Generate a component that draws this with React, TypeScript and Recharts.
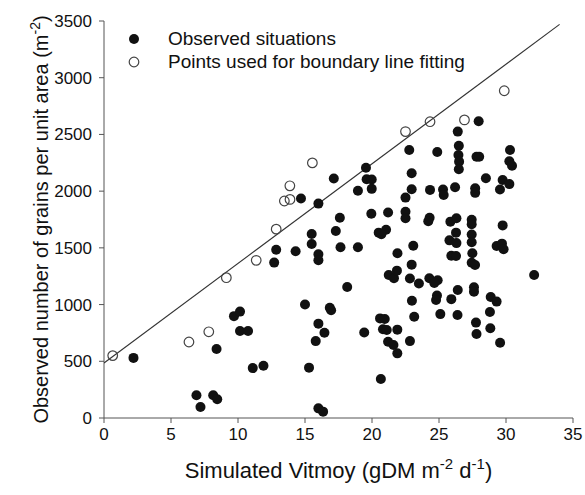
import {
  ScatterChart,
  Scatter,
  XAxis,
  YAxis,
} from 'recharts'

// filled dots: observed situations [vitmoy, grains]
const observedX = [
  2.2, 6.9, 7.2, 8.15, 8.45, 8.4, 9.7, 10.15, 10.15, 10.75, 11.1, 11.9, 12.85, 12.7, 14.3, 14.7,
  15.0, 15.3, 15.5, 15.5, 16.0, 16.0, 16.0, 16.45, 15.8, 16.0, 16.35, 16.0, 16.85, 16.95, 17.3,
  17.65, 17.6, 17.15, 18.95, 18.15, 19.95, 21.2, 20.5, 21.05, 20.7, 22.5, 22.5, 22.5, 21.9, 23.08,
  22.96, 21.25, 21.64, 21.86, 22.83, 23.5, 22.98, 23.15, 20.6, 20.95, 20.82, 21.1, 21.89, 19.42,
  21.2, 21.6, 21.89, 22.83, 20.66, 24.3, 24.2, 24.28, 24.9, 24.65, 24.85, 24.78, 25.1, 25.85, 26.3,
  26.27, 25.78, 26.3, 25.92, 26.27, 25.92, 26.4, 26.38, 27.44, 27.44, 27.44, 27.44, 27.49, 27.44,
  27.69, 27.61, 27.61, 27.76, 27.8, 29.75, 29.3, 29.7, 29.82, 28.86, 29.3, 28.8, 28.83, 29.56,
  32.1, 27.96, 26.4, 26.48, 26.45, 26.5, 26.48, 27.8, 28.0, 22.78, 24.87, 22.96, 22.96, 19.55,
  19.6, 19.98, 18.95, 19.98, 24.33, 25.3, 25.35, 26.2, 27.7, 27.7, 28.5, 29.75, 30.25, 29.55,
  30.3, 30.25, 30.45,
]
const observedY = [
  530, 200, 97, 200, 165, 608, 898, 938, 767, 767, 440, 461, 1484, 1370, 1470, 1935,
  1000, 444, 1622, 1534, 1443, 1390, 832, 752, 678, 85, 56, 1890, 972, 950, 1649,
  1505, 1766, 2112, 1505, 1155, 1800, 1812, 1634, 1660, 1620, 1819, 1761, 1943, 1452, 1518,
  1352, 1261, 1232, 1299, 1230, 1186, 1034, 893, 878, 873, 783, 776, 779, 754,
  673, 644, 570, 678, 344, 1765, 1735, 1232, 1215, 1190, 1080, 1041, 916, 1731, 1761,
  1634, 1566, 1542, 1431, 1428, 1048, 1129, 908, 1748, 1708, 1617, 1550, 1452, 1368,
  1349, 1152, 1114, 841, 741, 1698, 1517, 1537, 1487, 1067, 1026, 935, 791, 664,
  1260, 2616, 2525, 2400, 2319, 2260, 2193, 2304, 2304, 2363, 2345, 2158, 2017, 2207,
  2105, 2102, 2003, 2020, 2011, 2014, 1966, 2034, 2025, 1985, 2114, 2099, 2062, 2015,
  2363, 2264, 2224,
]

// open circles: points used for boundary line fitting
const boundaryPtsX = [0.65, 6.34, 7.82, 9.13, 11.36, 12.85, 13.46, 13.88, 13.87, 15.55, 22.5, 24.33, 26.9, 29.87]
const boundaryPtsY = [550, 670, 760, 1237, 1390, 1665, 1913, 1927, 2047, 2249, 2525, 2612, 2628, 2885]

// boundary line end points
const lineX = [0, 34]
const lineY = [485, 3470]

const xTicks = [0, 5, 10, 15, 20, 25, 30, 35]
const yTicks = [0, 500, 1000, 1500, 2000, 2500, 3000, 3500]

const observed = observedX.map((x, i) => ({ x, y: observedY[i] }))
const boundaryPts = boundaryPtsX.map((x, i) => ({ x, y: boundaryPtsY[i] }))
const boundaryLine = lineX.map((x, i) => ({ x, y: lineY[i] }))

const FONT = '"Liberation Sans", Arial, sans-serif'
const INK = '#111'

const FilledDot = (p: any) => <circle cx={p.cx} cy={p.cy} r={5} fill={INK} />
const OpenDot = (p: any) => (
  <circle cx={p.cx} cy={p.cy} r={4.8} fill="none" stroke="#444" strokeWidth={1.2} />
)

const XTitle = ({ viewBox }: any) => {
  const cx = viewBox.x + viewBox.width / 2
  const y = viewBox.y + 60
  return (
    <text x={cx} y={y} textAnchor="middle" fontSize={22} fill={INK} fontFamily={FONT}>
      Simulated Vitmoy (gDM m
      <tspan dy={-9} fontSize={15}>-2</tspan>
      <tspan dy={9}> d</tspan>
      <tspan dy={-9} fontSize={15}>-1</tspan>
      <tspan dy={9}>)</tspan>
    </text>
  )
}

const YTitle = ({ viewBox }: any) => {
  const x = 48
  const cy = viewBox.y + viewBox.height / 2
  return (
    <text
      x={x}
      y={cy}
      transform={`rotate(-90, ${x}, ${cy})`}
      textAnchor="middle"
      fontSize={20}
      fill={INK}
      fontFamily={FONT}
    >
      Observed number of grains per unit area (m
      <tspan dy={-8} fontSize={14}>-2</tspan>
      <tspan dy={8}>)</tspan>
    </text>
  )
}

const LegendBox = () => (
  <div
    style={{
      position: 'absolute',
      left: 126,
      top: 27,
      fontFamily: FONT,
      fontSize: 19,
      color: INK,
      lineHeight: '23px',
      whiteSpace: 'nowrap',
    }}
  >
    <div style={{ display: 'flex', alignItems: 'center', height: 23 }}>
      <svg width={16} height={16}>
        <circle cx={8} cy={8} r={5} fill={INK} />
      </svg>
      <span style={{ marginLeft: 26 }}>Observed situations</span>
    </div>
    <div style={{ display: 'flex', alignItems: 'center', height: 23 }}>
      <svg width={16} height={16}>
        <circle cx={8} cy={8} r={4.8} fill="#fff" stroke="#444" strokeWidth={1.2} />
      </svg>
      <span style={{ marginLeft: 26 }}>Points used for boundary line fitting</span>
    </div>
  </div>
)

export default function App() {
  return (
    <div style={{ position: 'absolute', left: 0, top: 0, width: 585, height: 495, background: '#fff' }}>
      <ScatterChart
        width={585}
        height={495}
        margin={{ top: 21, right: 12, left: 0, bottom: 0 }}
        style={{ fontFamily: FONT }}
      >
        <XAxis
          type="number"
          dataKey="x"
          domain={[0, 35]}
          ticks={xTicks}
          height={77}
          tickSize={5}
          tickMargin={5}
          allowDataOverflow
          stroke="#555"
          tick={{ fill: INK, fontSize: 17 }}
          label={{ content: (p: any) => <XTitle {...p} /> }}
        />
        <YAxis
          type="number"
          dataKey="y"
          domain={[0, 3500]}
          ticks={yTicks}
          width={104}
          tickSize={5}
          tickMargin={7}
          allowDataOverflow
          stroke="#555"
          tick={{ fill: INK, fontSize: 17 }}
          label={{ content: (p: any) => <YTitle {...p} /> }}
        />
        <Scatter
          name="Boundary line"
          data={boundaryLine}
          line={{ stroke: '#333', strokeWidth: 1.1 }}
          shape={() => <g />}
          isAnimationActive={false}
        />
        <Scatter
          name="Observed situations"
          data={observed}
          shape={FilledDot}
          isAnimationActive={false}
        />
        <Scatter
          name="Points used for boundary line fitting"
          data={boundaryPts}
          shape={OpenDot}
          isAnimationActive={false}
        />
      </ScatterChart>
      <LegendBox />
    </div>
  )
}
